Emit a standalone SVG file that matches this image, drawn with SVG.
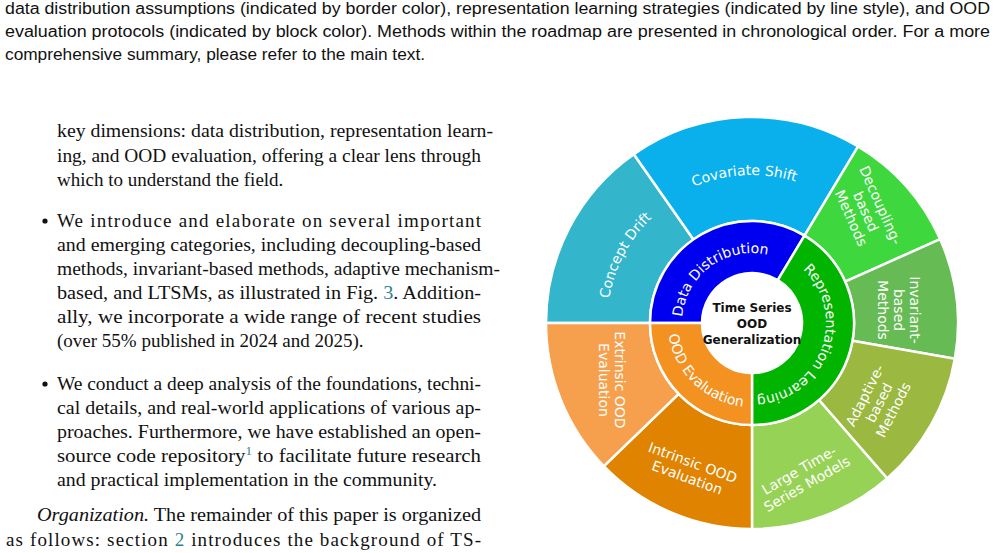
<svg xmlns="http://www.w3.org/2000/svg" width="997" height="553" viewBox="0 0 997 553">
<style>
.cap{font-family:"Liberation Sans","DejaVu Sans",sans-serif;font-size:16px;fill:#111}
.body{font-family:"Liberation Serif",serif;font-size:19px;fill:#111}
.seg path{stroke:#fff;stroke-width:2.5}
.lbl{font-family:"DejaVu Sans",sans-serif;font-size:14px;fill:#fff;text-anchor:middle}
.inn{font-family:"DejaVu Sans",sans-serif;font-size:14px;fill:#fff;text-anchor:middle}
.ctr{font-family:"DejaVu Sans",sans-serif;font-size:12px;font-weight:bold;fill:#111;text-anchor:middle}
.lk{fill:#2f7f8f}
</style>
<rect width="997" height="553" fill="#fff"/>
<g id="caption">
<text class="cap" x="5" y="14" textLength="985" lengthAdjust="spacingAndGlyphs">data distribution assumptions (indicated by border color), representation learning strategies (indicated by line style), and OOD</text>
<text class="cap" x="5" y="37" textLength="985" lengthAdjust="spacingAndGlyphs">evaluation protocols (indicated by block color). Methods within the roadmap are presented in chronological order. For a more</text>
<text class="cap" x="5" y="60" textLength="420" lengthAdjust="spacingAndGlyphs">comprehensive summary, please refer to the main text.</text>
</g>
<g id="bodytext">
<text class="body" x="57" y="137" textLength="436" lengthAdjust="spacingAndGlyphs">key dimensions: data distribution, representation learn-</text>
<text class="body" x="57" y="162" textLength="424" lengthAdjust="spacingAndGlyphs">ing, and OOD evaluation, offering a clear lens through</text>
<text class="body" x="57" y="186">which to understand the field.</text>
<circle cx="45" cy="221" r="2.6" fill="#111"/>
<text class="body" x="57" y="227" textLength="424">We introduce and elaborate on several important</text>
<text class="body" x="57" y="251" textLength="424" lengthAdjust="spacingAndGlyphs">and emerging categories, including decoupling-based</text>
<text class="body" x="57" y="275" textLength="443" lengthAdjust="spacingAndGlyphs">methods, invariant-based methods, adaptive mechanism-</text>
<text class="body" x="57" y="299" textLength="424" lengthAdjust="spacingAndGlyphs">based, and LTSMs, as illustrated in Fig. <tspan class="lk">3</tspan>. Addition-</text>
<text class="body" x="57" y="323" textLength="424" lengthAdjust="spacingAndGlyphs">ally, we incorporate a wide range of recent studies</text>
<text class="body" x="57" y="347">(over 55% published in 2024 and 2025).</text>
<circle cx="45" cy="384" r="2.6" fill="#111"/>
<text class="body" x="57" y="390" textLength="424" lengthAdjust="spacingAndGlyphs">We conduct a deep analysis of the foundations, techni-</text>
<text class="body" x="57" y="414" textLength="424" lengthAdjust="spacingAndGlyphs">cal details, and real-world applications of various ap-</text>
<text class="body" x="57" y="438" textLength="424" lengthAdjust="spacingAndGlyphs">proaches. Furthermore, we have established an open-</text>
<text class="body" x="57" y="462" textLength="424" lengthAdjust="spacingAndGlyphs">source code repository<tspan class="lk" font-size="12" dy="-7">1</tspan><tspan dy="7"> to facilitate future research</tspan></text>
<text class="body" x="57" y="486" textLength="380" lengthAdjust="spacingAndGlyphs">and practical implementation in the community.</text>
<text class="body" x="37" y="521" textLength="444" lengthAdjust="spacingAndGlyphs"><tspan font-style="italic">Organization.</tspan> The remainder of this paper is organized</text>
<text class="body" x="6" y="546" textLength="475">as follows: section <tspan class="lk">2</tspan> introduces the background of TS-</text>
</g>
<defs>
<path id="pDD" d="M682.27,329.10 A70,70 0 0 1 779.35,258.56"/>
<path id="pRL" d="M789,258.91 A74,74 0 0 1 739.15,395.88"/>
<path id="pOE" d="M668.73,311.31 A84,84 0 0 0 766.59,405.72"/>
<path id="pCS" d="M638.63,227.87 A148,148 0 0 1 854.82,216.54"/>
<path id="pCD" d="M615.74,372.59 A145,145 0 0 1 716.92,182.31"/>
</defs>
<g class="seg" id="chart">
<g id="concept-drift"><path fill="#33B5CC" d="M546,323 A206,206 0 0 1 633.84,154.24 L693.49,239.44 A102,102 0 0 0 650,323 Z"/>
<text class="lbl"><textPath href="#pCD" startOffset="50%">Concept Drift</textPath></text></g>
<g id="covariate-shift"><path fill="#0AB0EC" d="M633.84,154.24 A206,206 0 0 1 858.09,146.42 L804.53,235.57 A102,102 0 0 0 693.49,239.44 Z"/>
<text class="lbl"><textPath href="#pCS" startOffset="50%">Covariate Shift</textPath></text></g>
<g id="decoupling"><path fill="#3ED83E" d="M858.09,146.42 A206,206 0 0 1 940.18,239.22 L845.18,281.52 A102,102 0 0 0 804.53,235.57 Z"/>
<text class="lbl" transform="translate(865,212) rotate(66)"><tspan x="0" y="-12">Decoupling-</tspan><tspan x="0" y="4">based</tspan><tspan x="0" y="20">Methods</tspan></text></g>
<g id="invariant"><path fill="#66BB55" d="M940.18,239.22 A206,206 0 0 1 954.87,358.76 L852.45,340.71 A102,102 0 0 0 845.18,281.52 Z"/>
<text class="lbl" transform="translate(898,310) rotate(90)"><tspan x="0" y="-12">Invariant-</tspan><tspan x="0" y="4">based</tspan><tspan x="0" y="20">Methods</tspan></text></g>
<g id="adaptive"><path fill="#9BB840" d="M954.87,358.76 A206,206 0 0 1 887.16,478.47 L818.92,399.98 A102,102 0 0 0 852.45,340.71 Z"/>
<text class="lbl" transform="translate(880,403) rotate(-63)"><tspan x="0" y="-12">Adaptive-</tspan><tspan x="0" y="4">based</tspan><tspan x="0" y="20">Methods</tspan></text></g>
<g id="ltsm"><path fill="#96D255" d="M887.16,478.47 A206,206 0 0 1 752,529 L752,425 A102,102 0 0 0 818.92,399.98 Z"/>
<text class="lbl" transform="translate(803,477) rotate(-30)"><tspan x="0" y="-3">Large Time-</tspan><tspan x="0" y="13">Series Models</tspan></text></g>
<g id="intrinsic"><path fill="#E08300" d="M752,529 A206,206 0 0 1 603.82,466.11 L678.63,393.86 A102,102 0 0 0 752,425 Z"/>
<text class="lbl" transform="translate(690,470) rotate(20)"><tspan x="0" y="-3">Intrinsic OOD</tspan><tspan x="0" y="13">Evaluation</tspan></text></g>
<g id="extrinsic"><path fill="#F6A04D" d="M603.82,466.11 A206,206 0 0 1 546,323 L650,323 A102,102 0 0 0 678.63,393.86 Z"/>
<text class="lbl" transform="translate(612,380) rotate(90)"><tspan x="0" y="-3">Extrinsic OOD</tspan><tspan x="0" y="13">Evaluation</tspan></text></g>
<g id="data-distribution"><path fill="#0000F0" d="M650,323 A102,102 0 0 1 804.53,235.57 L777.75,280.14 A50,50 0 0 0 702,323 Z"/>
<text class="inn"><textPath href="#pDD" startOffset="50%">Data Distribution</textPath></text></g>
<g id="representation-learning"><path fill="#00B400" d="M804.53,235.57 A102,102 0 0 1 752,425 L752,373 A50,50 0 0 0 777.75,280.14 Z"/>
<text class="inn"><textPath href="#pRL" startOffset="50%">Representation Learning</textPath></text></g>
<g id="ood-evaluation"><path fill="#F39121" d="M752,425 A102,102 0 0 1 650,323 L702,323 A50,50 0 0 0 752,373 Z"/>
<text class="inn"><textPath href="#pOE" startOffset="50%">OOD Evaluation</textPath></text></g>
<g id="center"><circle cx="752" cy="323" r="50" fill="#fff"/>
<text class="ctr"><tspan x="752" y="312">Time Series</tspan><tspan x="752" y="328">OOD</tspan><tspan x="752" y="344">Generalization</tspan></text></g>
</g>
<g id="connectors"/>
</svg>
